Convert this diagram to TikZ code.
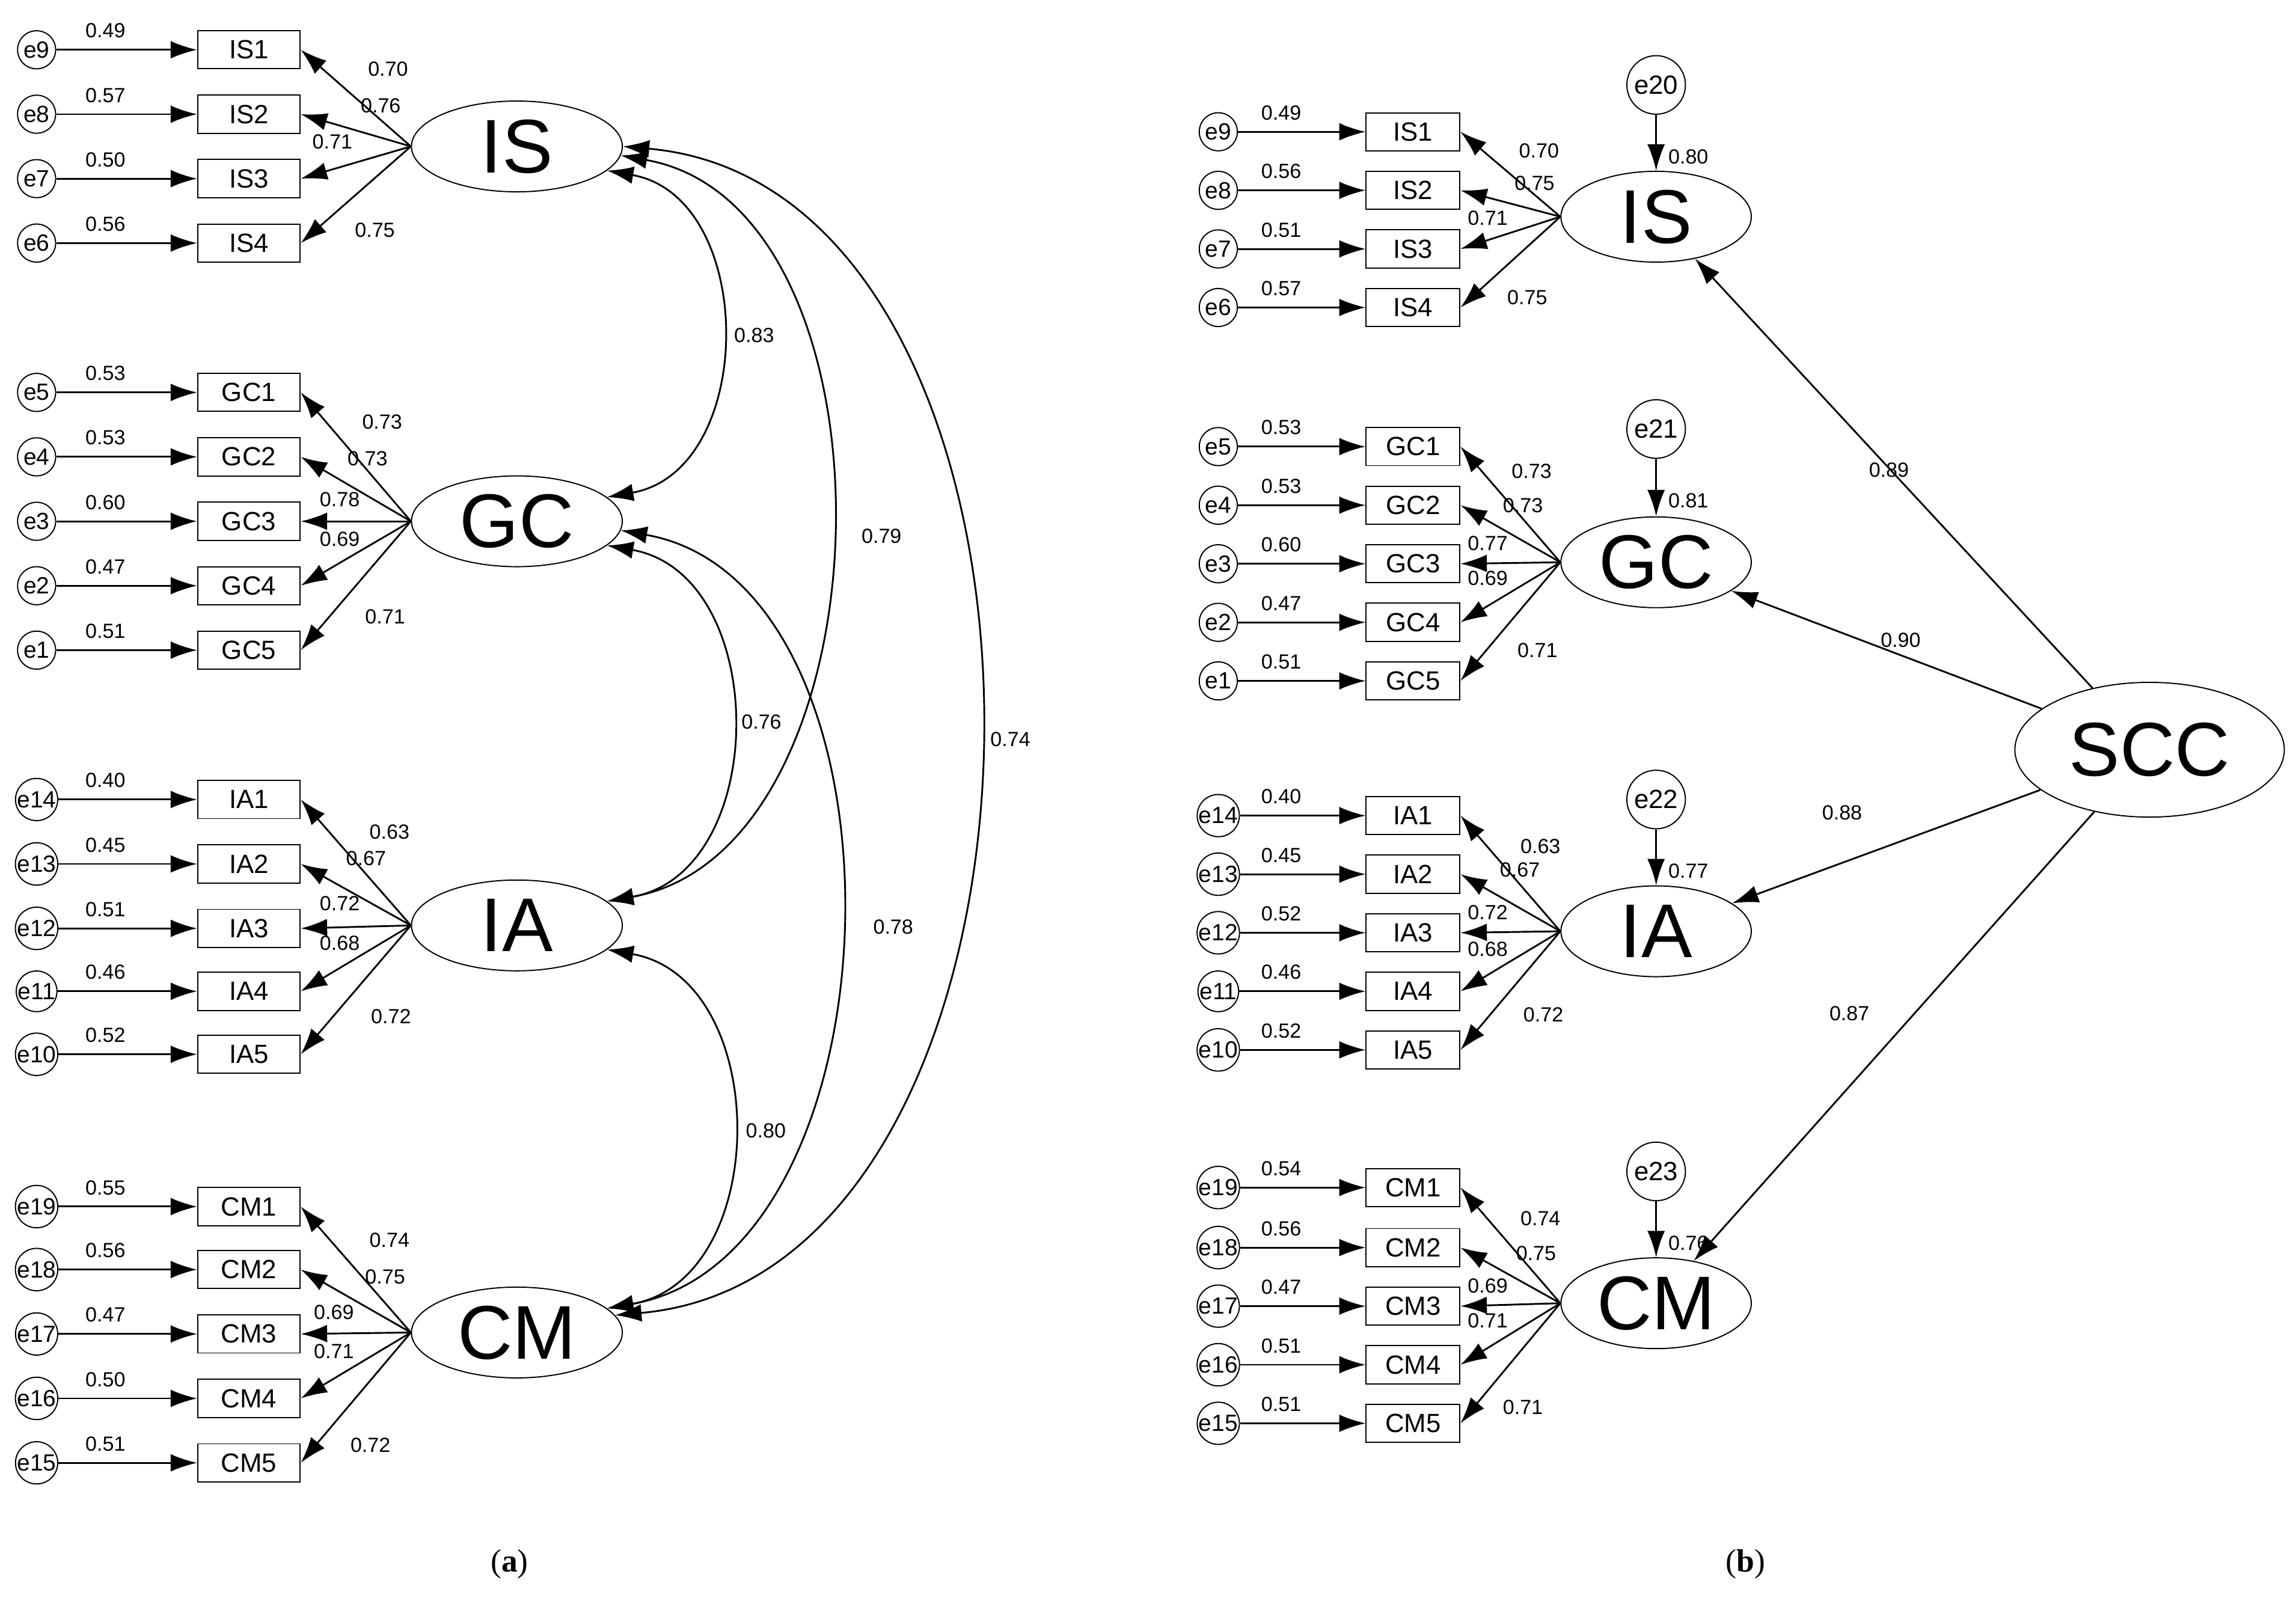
\documentclass[tikz,border=0pt]{standalone}
\usepackage{fontspec}
\setmainfont{Liberation Sans}
\usetikzlibrary{arrows.meta,shapes.geometric}

\tikzset{
  err/.style={circle,draw,minimum size=13pt,inner sep=0pt,font=\fontsize{8}{9}\selectfont},
  dist/.style={circle,draw,minimum size=20pt,inner sep=0pt,font=\fontsize{9}{10}\selectfont},
  obs/.style={rectangle,draw,minimum width=35pt,minimum height=13pt,inner sep=0pt,font=\fontsize{9}{10}\selectfont},
  lat/.style={ellipse,draw,minimum width=72pt,minimum height=31pt,inner sep=0pt,font=\fontsize{26}{28}\selectfont},
  val/.style={inner sep=0.5pt,font=\fontsize{7}{8}\selectfont},
  arr/.style={-{Latex[length=9pt,width=6pt]},semithick},
  dbl/.style={{Latex[length=9pt,width=6pt]}-{Latex[length=9pt,width=6pt]},semithick}
}

\begin{document}
\begin{tikzpicture}[x=0.5pt,y=-0.5pt]
\useasboundingbox (0,0) rectangle (1568,1091);

%% panel (a)
\node[lat] (aIS) at (353,100) {IS};
\node[lat] (aGC) at (353,356) {GC};
\node[lat] (aIA) at (353,632) {IA};
\node[lat] (aCM) at (353,910) {CM};

\foreach \lv/\it/\y/\e/\r/\l/\lx/\ly in {
  IS/IS1/34/e9/0.49/0.70/265/47, IS/IS2/78/e8/0.57/0.76/260/72,
  IS/IS3/122/e7/0.50/0.71/227/97, IS/IS4/166/e6/0.56/0.75/256/157,
  GC/GC1/268/e5/0.53/0.73/261/288, GC/GC2/312/e4/0.53/0.73/251/313,
  GC/GC3/356/e3/0.60/0.78/232/341, GC/GC4/400/e2/0.47/0.69/232/368,
  GC/GC5/444/e1/0.51/0.71/263/421,
  IA/IA1/546/e14/0.40/0.63/266/568, IA/IA2/590/e13/0.45/0.67/250/586,
  IA/IA3/634/e12/0.51/0.72/232/617, IA/IA4/677/e11/0.46/0.68/232/644,
  IA/IA5/720/e10/0.52/0.72/267/694,
  CM/CM1/824/e19/0.55/0.74/266/847, CM/CM2/867/e18/0.56/0.75/263/872,
  CM/CM3/911/e17/0.47/0.69/228/896, CM/CM4/955/e16/0.50/0.71/228/923,
  CM/CM5/999/e15/0.51/0.72/253/987}{
  \node[obs] (a\it) at (170,\y) {\it};
  \node[err] (a\e) at (25,\y) {\e};
  \draw[arr] (a\e) -- (a\it);
  \draw[arr] (a\lv.west) -- (a\it.east);
  \node[val] at (72,\y-13) {\r};
  \node[val] at (\lx,\ly) {\l};
}

\draw[dbl] (aIS.-15) to[out=-10,in=10,looseness=1.2] (aGC.15);
\draw[dbl] (aIS.-5) to[out=-10,in=10,looseness=1.0] (aIA.15);
\draw[dbl] (aIS.0) to[out=-5,in=5,looseness=1.05] (aCM.10);
\draw[dbl] (aGC.-15) to[out=-10,in=10,looseness=1.2] (aIA.15);
\draw[dbl] (aGC.-5) to[out=-10,in=10,looseness=1.0] (aCM.15);
\draw[dbl] (aIA.-15) to[out=-10,in=10,looseness=1.2] (aCM.15);
\node[val] at (515,229) {0.83};
\node[val] at (602,366) {0.79};
\node[val] at (690,505) {0.74};
\node[val] at (520,493) {0.76};
\node[val] at (610,633) {0.78};
\node[val] at (523,772) {0.80};

%% panel (b)
\node[lat,minimum width=65pt] (bIS) at (1131,148) {IS};
\node[lat,minimum width=65pt] (bGC) at (1131,384) {GC};
\node[lat,minimum width=65pt] (bIA) at (1131,636) {IA};
\node[lat,minimum width=65pt] (bCM) at (1131,890) {CM};
\node[lat,minimum width=92pt,minimum height=46pt] (bSCC) at (1468,512) {SCC};

\foreach \lv/\it/\y/\e/\r/\l/\lx/\ly in {
  IS/IS1/90/e9/0.49/0.70/1051/103, IS/IS2/130/e8/0.56/0.75/1048/125,
  IS/IS3/170/e7/0.51/0.71/1016/149, IS/IS4/210/e6/0.57/0.75/1043/203,
  GC/GC1/305/e5/0.53/0.73/1046/322, GC/GC2/345/e4/0.53/0.73/1040/345,
  GC/GC3/385/e3/0.60/0.77/1016/371, GC/GC4/425/e2/0.47/0.69/1016/395,
  GC/GC5/465/e1/0.51/0.71/1050/444,
  IA/IA1/557/e14/0.40/0.63/1052/578, IA/IA2/597/e13/0.45/0.67/1038/594,
  IA/IA3/637/e12/0.52/0.72/1016/623, IA/IA4/677/e11/0.46/0.68/1016/648,
  IA/IA5/717/e10/0.52/0.72/1054/693,
  CM/CM1/811/e19/0.54/0.74/1052/832, CM/CM2/852/e18/0.56/0.75/1049/856,
  CM/CM3/892/e17/0.47/0.69/1016/878, CM/CM4/932/e16/0.51/0.71/1016/902,
  CM/CM5/972/e15/0.51/0.71/1040/961}{
  \node[obs,minimum width=32pt] (b\it) at (965,\y) {\it};
  \node[err] (b\e) at (832,\y) {\e};
  \draw[arr] (b\e) -- (b\it);
  \draw[arr] (b\lv.west) -- (b\it.east);
  \node[val] at (875,\y-13) {\r};
  \node[val] at (\lx,\ly) {\l};
}

\foreach \lv/\d/\y/\r in {IS/e20/58/0.80, GC/e21/293/0.81,
  IA/e22/546/0.77, CM/e23/800/0.76}{
  \node[dist] (b\d) at (1131,\y) {\d};
  \draw[arr] (b\d) -- (b\lv);
  \node[val] at (1153,\y+49) {\r};
  \draw[arr] (bSCC) -- (b\lv);
}
\node[val] at (1290,321) {0.89};
\node[val] at (1298,437) {0.90};
\node[val] at (1258,555) {0.88};
\node[val] at (1263,692) {0.87};

\node[font=\fontsize{11}{12}\fontspec{Liberation Serif}] at (348,1068) {(\textbf{a})};
\node[font=\fontsize{11}{12}\fontspec{Liberation Serif}] at (1192,1068) {(\textbf{b})};
\end{tikzpicture}
\end{document}
